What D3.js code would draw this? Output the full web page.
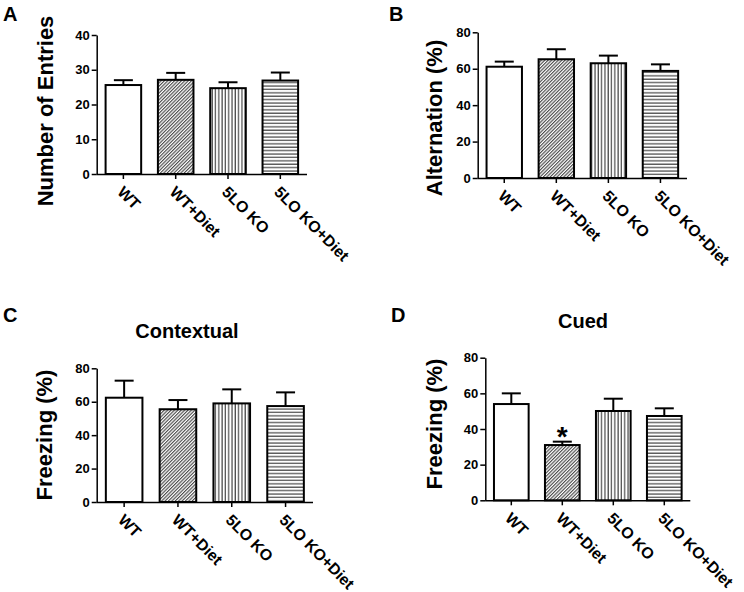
<!DOCTYPE html>
<html>
<head>
<meta charset="utf-8">
<script src="https://cdn.jsdelivr.net/npm/d3@7"></script>
<style>
  html, body { margin: 0; padding: 0; background: #fff; }
  svg { display: block; }
  text { font-family: "Liberation Sans", Arial, Helvetica, sans-serif; font-weight: bold; fill: #000; }
</style>
</head>
<body>
<svg id="chart" width="744" height="592"></svg>
<script>
// ---------------- data ----------------
const categories = ["WT", "WT+Diet", "5LO KO", "5LO KO+Diet"];

const entriesMean = [25.6, 27.1, 24.7, 26.9];
const entriesSem  = [1.4, 2.0, 1.7, 2.3];
const entriesTicks = [0, 10, 20, 30, 40];

const alternationMean = [61.1, 65.2, 63.0, 58.8];
const alternationSem  = [2.8, 5.5, 4.2, 3.6];
const alternationTicks = [0, 20, 40, 60, 80];

const contextualMean = [62.4, 55.5, 59.0, 57.4];
const contextualSem  = [10.2, 5.5, 8.4, 8.2];

const cuedMean = [54.0, 31.0, 50.1, 47.3];
const cuedSem  = [6.0, 1.9, 6.9, 4.3];
const freezingTicks = [0, 20, 40, 60, 80];

const cuedSignificant = ["WT+Diet"];

// ---------------- drawing ----------------
const svg = d3.select("#chart");
const defs = svg.append("defs");

// patterns
const pDiag = defs.append("pattern").attr("id", "pDiag").attr("patternUnits", "userSpaceOnUse")
  .attr("width", 2.4).attr("height", 10).attr("patternTransform", "rotate(45)");
pDiag.append("rect").attr("width", 2.4).attr("height", 10).attr("fill", "#fff");
pDiag.append("line").attr("x1", 0.6).attr("x2", 0.6).attr("y1", 0).attr("y2", 10)
  .attr("stroke", "#3a3a3a").attr("stroke-width", 1.05);

const pVert = defs.append("pattern").attr("id", "pVert").attr("patternUnits", "userSpaceOnUse")
  .attr("width", 3.3).attr("height", 10);
pVert.append("rect").attr("width", 3.3).attr("height", 10).attr("fill", "#fff");
pVert.append("line").attr("x1", 1).attr("x2", 1).attr("y1", 0).attr("y2", 10)
  .attr("stroke", "#333").attr("stroke-width", 1.1);

const pHorz = defs.append("pattern").attr("id", "pHorz").attr("patternUnits", "userSpaceOnUse")
  .attr("width", 10).attr("height", 3.4);
pHorz.append("rect").attr("width", 10).attr("height", 3.4).attr("fill", "#fff");
pHorz.append("line").attr("y1", 1).attr("y2", 1).attr("x1", 0).attr("x2", 10)
  .attr("stroke", "#333").attr("stroke-width", 1.1);

const fills = d3.scaleOrdinal().domain(categories)
  .range(["#fff", "url(#pDiag)", "url(#pVert)", "url(#pHorz)"]);

function panel(cfg) {
  const g = svg.append("g");
  const x = d3.scaleBand().domain(categories).range([cfg.left, cfg.right])
    .paddingInner(0.32).paddingOuter(0.17);
  const y = d3.scaleLinear().domain([0, cfg.ticks[cfg.ticks.length - 1]]).range([cfg.bottom, cfg.top]);

  // panel letter
  g.append("text").attr("x", cfg.letterX).attr("y", cfg.letterY).attr("font-size", 20).text(cfg.letter);

  // title
  if (cfg.title) {
    g.append("text").attr("x", cfg.titleX).attr("y", cfg.titleY).attr("text-anchor", "middle")
      .attr("font-size", 20).text(cfg.title);
  }

  // y label
  g.append("text")
    .attr("transform", `translate(${cfg.ylabX},${cfg.ylabY}) rotate(-90)`)
    .attr("text-anchor", "middle").attr("font-size", 22).text(cfg.ylabel);

  const data = categories.map((c, i) => ({ c, m: cfg.mean[i], s: cfg.sem[i] }));

  // error bars
  const eb = g.append("g");
  eb.selectAll("line.v").data(data).join("line")
    .attr("x1", d => x(d.c) + x.bandwidth() / 2).attr("x2", d => x(d.c) + x.bandwidth() / 2)
    .attr("y1", d => y(d.m)).attr("y2", d => y(d.m + d.s))
    .attr("stroke", "#000").attr("stroke-width", 2);
  eb.selectAll("line.h").data(data).join("line")
    .attr("x1", d => x(d.c) + x.bandwidth() / 2 - 9.5).attr("x2", d => x(d.c) + x.bandwidth() / 2 + 9.5)
    .attr("y1", d => y(d.m + d.s)).attr("y2", d => y(d.m + d.s))
    .attr("stroke", "#000").attr("stroke-width", 2);

  // bars
  g.append("g").selectAll("rect").data(data).join("rect")
    .attr("x", d => x(d.c)).attr("width", x.bandwidth())
    .attr("y", d => y(d.m)).attr("height", d => y(0) - y(d.m))
    .attr("fill", d => fills(d.c)).attr("stroke", "#000").attr("stroke-width", 2);

  // y axis
  const ya = g.append("g").attr("transform", `translate(${cfg.left},0)`)
    .call(d3.axisLeft(y).tickValues(cfg.ticks).tickSize(5).tickPadding(2).tickSizeOuter(0));
  ya.select(".domain").attr("stroke-width", 1.5);
  ya.selectAll(".tick line").attr("stroke-width", 1.5);
  ya.selectAll(".tick text").attr("font-size", 13).attr("font-family", null).attr("font-weight", "bold");

  // x axis
  const xa = g.append("g").attr("transform", `translate(0,${cfg.bottom})`)
    .call(d3.axisBottom(x).tickSize(5).tickSizeOuter(0));
  xa.select(".domain").attr("stroke-width", 1.5).attr("d", `M${cfg.left},0.5H${cfg.right}`);
  xa.selectAll(".tick line").attr("stroke-width", 1.5);
  xa.selectAll(".tick text")
    .attr("font-size", 15.8).attr("font-family", null).attr("font-weight", "bold")
    .attr("text-anchor", "start").attr("dy", null)
    .attr("y", 0)
    .attr("transform", "translate(-7,19) rotate(45)");

  // significance marks
  if (cfg.sig) {
    g.append("g").selectAll("text").data(data.filter(d => cfg.sig.includes(d.c))).join("text")
      .attr("x", d => x(d.c) + x.bandwidth() / 2)
      .attr("y", d => y(d.m + d.s) + 4)
      .attr("text-anchor", "middle").attr("font-size", 28).text("*");
  }
}

panel({ letter: "A", letterX: 3, letterY: 21, left: 96.7, right: 307, top: 35, bottom: 174,
  ticks: entriesTicks, mean: entriesMean, sem: entriesSem,
  ylabel: "Number of Entries", ylabX: 53, ylabY: 111 });

panel({ letter: "B", letterX: 389, letterY: 21, left: 477.7, right: 687, top: 32.3, bottom: 178,
  ticks: alternationTicks, mean: alternationMean, sem: alternationSem,
  ylabel: "Alternation (%)", ylabX: 442, ylabY: 118 });

panel({ letter: "C", letterX: 3, letterY: 322, left: 96.7, right: 313, top: 368.3, bottom: 502,
  ticks: freezingTicks, mean: contextualMean, sem: contextualSem,
  title: "Contextual", titleX: 187, titleY: 338,
  ylabel: "Freezing (%)", ylabX: 52, ylabY: 435 });

panel({ letter: "D", letterX: 391, letterY: 322, left: 485.3, right: 690.3, top: 357.7, bottom: 500.3,
  ticks: freezingTicks, mean: cuedMean, sem: cuedSem, sig: cuedSignificant,
  title: "Cued", titleX: 583, titleY: 328,
  ylabel: "Freezing (%)", ylabX: 442, ylabY: 424 });
</script>
</body>
</html>
